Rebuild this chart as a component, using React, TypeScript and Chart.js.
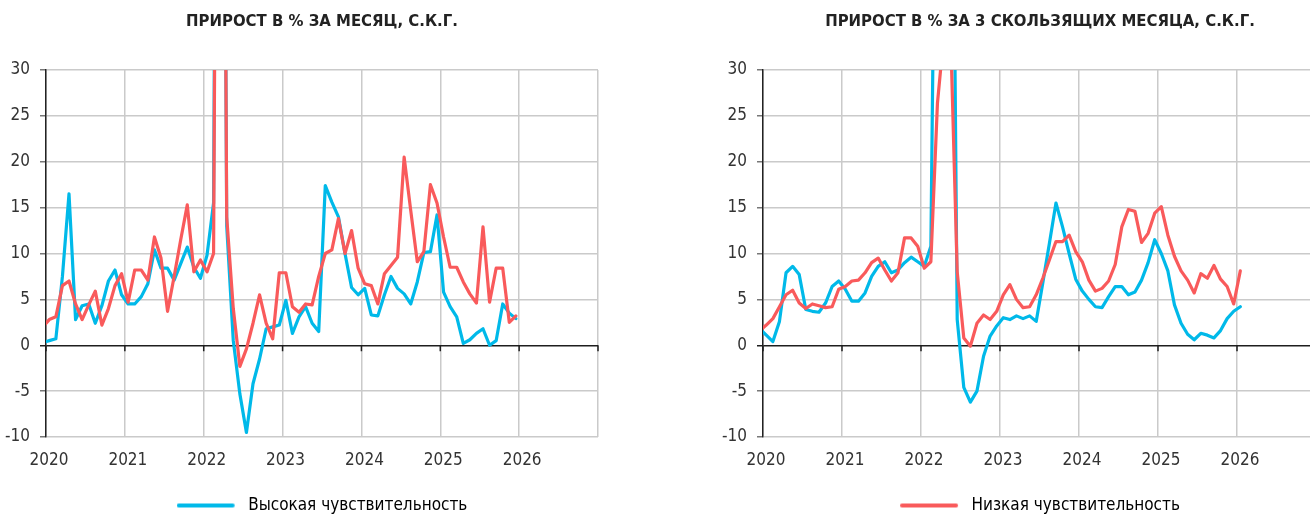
import React, { useEffect, useRef } from "react";
import { Chart, registerables } from "chart.js";

Chart.register(...registerables);

// ---- data (first value = Dec 2019, plotted mid-month) ----
const FIRST_YEAR = 2019;
const FIRST_MONTH_INDEX = 11; // December

const titles = [
  "ПРИРОСТ В % ЗА МЕСЯЦ, С.К.Г.",
  "ПРИРОСТ В % ЗА 3 СКОЛЬЗЯЩИХ МЕСЯЦА, С.К.Г.",
];
const seriesNames = ["Высокая чувствительность", "Низкая чувствительность"];
const yearTicks = [2020, 2021, 2022, 2023, 2024, 2025, 2026];

// Month-over-month, annualised (Dec 2019 .. Dec 2025)
const highMonthly = [
  0.3, 0.5, 0.7, 7.5, 16.5, 2.8, 4.3, 4.5, 2.4, 4.3, 7.0, 8.2, 5.5,
  4.5, 4.5, 5.3, 6.7, 10.4, 8.4, 8.4, 7.1, 8.9, 10.7, 8.5, 7.3,
  9.8, 15.5, 150, 13, 0.5, -5.3, -9.5, -4.2, -1.5, 1.8, 2.0, 2.2,
  4.9, 1.3, 3.1, 4.2, 2.4, 1.5, 17.4, 15.6, 14.0, 10.0, 6.3, 5.5,
  6.2, 3.3, 3.2, 5.5, 7.5, 6.2, 5.6, 4.5, 6.9, 10.1, 10.2, 14.2,
  5.8, 4.2, 3.1, 0.2, 0.6, 1.3, 1.8, 0.0, 0.5, 4.5, 3.5, 2.9,
];
const lowMonthly = [
  2.0, 2.8, 3.1, 6.5, 7.0, 4.5, 2.8, 4.4, 5.9, 2.2, 4.0, 6.5, 7.8,
  4.7, 8.2, 8.2, 7.1, 11.8, 9.5, 3.7, 7.5, 11.5, 15.3, 8.0, 9.3,
  8.0, 10.0, 140, 14, 4.0, -2.3, -0.4, 2.4, 5.5, 2.4, 0.7, 7.9,
  7.9, 4.2, 3.6, 4.5, 4.4, 7.5, 10.0, 10.4, 13.8, 10.0, 12.5, 8.4,
  6.7, 6.5, 4.5, 7.8, 8.7, 9.6, 20.5, 14.7, 9.1, 10.2, 17.5, 15.5,
  11.8, 8.5, 8.5, 6.9, 5.6, 4.6, 12.9, 4.7, 8.4, 8.4, 2.5, 3.2,
];

// 3-month moving, annualised (Dec 2019 .. Jan 2026)
const high3m = [
  1.8, 1.1, 0.4, 2.6, 7.9, 8.6, 7.7, 3.9, 3.7, 3.6, 4.6, 6.4, 7.0,
  6.1, 4.8, 4.8, 5.7, 7.5, 8.6, 9.1, 7.9, 8.2, 9.0, 9.6, 9.1,
  8.6, 10.8, 77, 85, 85, 2.8, -4.6, -6.2, -5.0, -1.2, 1.0, 2.1,
  3.0, 2.8, 3.2, 2.9, 3.2, 2.6, 6.8, 11.1, 15.5, 12.9, 10.0, 7.2,
  5.9, 5.0, 4.2, 4.1, 5.3, 6.4, 6.4, 5.5, 5.8, 7.1, 9.0, 11.5,
  10.0, 8.1, 4.4, 2.4, 1.2, 0.6, 1.3, 1.1, 0.8, 1.6, 2.9, 3.7,
  4.2,
];
const low3m = [
  1.6, 2.2, 2.9, 4.2, 5.5, 6.0, 4.6, 4.0, 4.5, 4.3, 4.1, 4.2, 6.1,
  6.4, 7.0, 7.1, 7.9, 9.0, 9.5, 8.2, 7.0, 7.9, 11.7, 11.7, 10.8,
  8.4, 9.1, 26.4, 34, 34, 8.0, 0.8, -0.1, 2.4, 3.3, 2.8, 3.7,
  5.5, 6.6, 5.0, 4.1, 4.2, 5.5, 7.3, 9.3, 11.3, 11.3, 12.0, 10.2,
  9.1, 7.1, 5.9, 6.2, 7.0, 8.8, 12.9, 14.8, 14.6, 11.2, 12.2, 14.4,
  15.1, 12.0, 9.7, 8.1, 7.1, 5.7, 7.8, 7.3, 8.7, 7.2, 6.4, 4.5,
  8.1,
];

const BLUE = "#00B9E9";
const RED = "#F95A5B";
const FONT = "'DejaVu Sans Condensed', 'Liberation Sans', sans-serif";

const toPoints = (vals: number[]) =>
  vals.map((v, i) => ({ x: FIRST_YEAR + (FIRST_MONTH_INDEX + i + 0.5) / 12, y: v }));

function makeMarker(color: string): HTMLCanvasElement {
  const c = document.createElement("canvas");
  c.width = 63;
  c.height = 6;
  const g = c.getContext("2d")!;
  g.strokeStyle = color;
  g.lineWidth = 4;
  g.lineCap = "round";
  g.beginPath();
  g.moveTo(2, 3);
  g.lineTo(56, 3);
  g.stroke();
  return c;
}

const zeroTicks = {
  id: "zeroTicks",
  beforeDatasetsDraw(chart: any) {
    const { ctx, scales } = chart;
    const x = scales.x;
    const y = scales.y;
    const y0 = y.getPixelForValue(0);
    ctx.save();
    ctx.strokeStyle = "#1e1e1e";
    ctx.lineWidth = 1.5;
    x.ticks.forEach((t: any) => {
      const px = x.getPixelForValue(t.value);
      ctx.beginPath();
      ctx.moveTo(px, y0);
      ctx.lineTo(px, y0 + 6);
      ctx.stroke();
    });
    ctx.restore();
  },
};

function buildConfig(title: string, high: number[], low: number[], legendIdx: number, rightSpace: number): any {
  const legendColor = legendIdx === 0 ? BLUE : RED;
  const marker = makeMarker(legendColor);
  const lineStyle = {
    borderWidth: 3.2,
    pointRadius: 0,
    tension: 0,
    borderJoinStyle: "round",
    borderCapStyle: "round",
    clip: 0,
  };
  return {
    type: "line",
    data: {
      datasets: [
        { label: seriesNames[1], data: toPoints(low), borderColor: RED, backgroundColor: RED, ...lineStyle },
        { label: seriesNames[0], data: toPoints(high), borderColor: BLUE, backgroundColor: BLUE, ...lineStyle },
      ],
    },
    options: {
      animation: false,
      responsive: false,
      devicePixelRatio: 1,
      events: [],
      layout: { padding: 0 },
      plugins: {
        tooltip: { enabled: false },
        title: {
          display: true,
          text: title,
          color: "#222",
          font: { family: FONT, size: 16.6, weight: "bold", lineHeight: 1.2 },
          padding: { top: 12, bottom: 38.08 },
        },
        legend: {
          display: true,
          position: "bottom",
          labels: {
            usePointStyle: true,
            pointStyleWidth: 63,
            padding: 20,
            color: "#333",
            font: { family: FONT, size: 17 },
            generateLabels: () => [
              {
                text: seriesNames[legendIdx],
                fillStyle: legendColor,
                strokeStyle: legendColor,
                lineWidth: 0,
                pointStyle: marker,
                hidden: false,
                datasetIndex: legendIdx === 0 ? 1 : 0,
              },
            ],
          },
        },
      },
      scales: {
        x: {
          type: "linear",
          min: 2020,
          max: 2027,
          afterFit: (s: any) => {
            s.height = 40;
          },
          border: { display: false },
          grid: { color: "#cacaca", lineWidth: 1.5, drawTicks: false },
          ticks: {
            stepSize: 1,
            autoSkip: false,
            maxRotation: 0,
            padding: 13,
            labelOffset: 3,
            color: "#333",
            font: { family: FONT, size: 17 },
            callback: (v: number) => (yearTicks.includes(v) ? String(v) : ""),
          },
        },
        y: {
          min: -10,
          max: 30,
          afterFit: (s: any) => {
            s.width = 46;
          },
          border: { display: true, color: "#222", width: 1.5 },
          grid: {
            color: (c: any) => (c.tick && c.tick.value === 0 ? "#1e1e1e" : "#cacaca"),
            lineWidth: 1.5,
            tickLength: 6,
            tickColor: (c: any) => (c.tick && c.tick.value === 0 ? "#1e1e1e" : "#777"),
          },
          ticks: {
            stepSize: 5,
            padding: 10,
            color: "#333",
            font: { family: FONT, size: 17 },
            callback: (v: number) => String(v),
          },
        },
        // empty spacer on the right so the title and legend centre over the plot
        spacer: {
          type: "linear",
          position: "right",
          afterFit: (s: any) => {
            s.width = rightSpace;
          },
          border: { display: false },
          grid: { display: false, drawTicks: false },
          ticks: { display: false },
        },
      },
    },
    plugins: [zeroTicks],
  };
}

function ChartPanel(props: { left: number; width: number; cfg: () => any }) {
  const ref = useRef<HTMLCanvasElement | null>(null);
  useEffect(() => {
    if (!ref.current) return;
    const chart = new Chart(ref.current, props.cfg());
    return () => chart.destroy();
  }, []);
  return (
    <canvas
      ref={ref}
      width={props.width}
      height={524}
      style={{ position: "absolute", left: props.left, top: 0, width: props.width, height: 524 }}
    />
  );
}

export default function App() {
  return (
    <div
      style={{
        position: "fixed",
        left: 0,
        top: 0,
        width: 1310,
        height: 515,
        overflow: "hidden",
        background: "#fff",
      }}
    >
      <ChartPanel left={0} width={644} cfg={() => buildConfig(titles[0], highMonthly, lowMonthly, 0, 46)} />
      <ChartPanel left={717} width={646} cfg={() => buildConfig(titles[1], high3m, low3m, 1, 47)} />
    </div>
  );
}
